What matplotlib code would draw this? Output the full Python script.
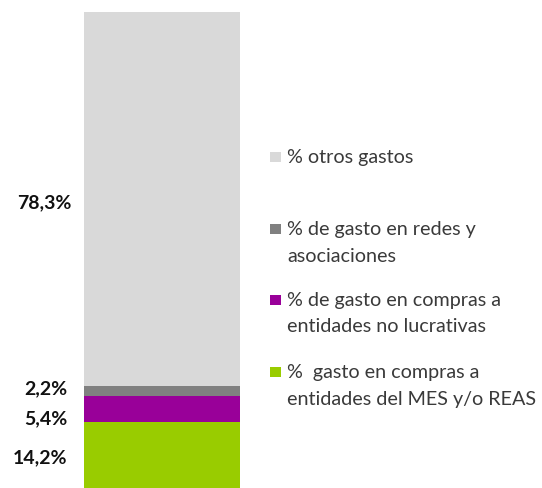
import matplotlib
matplotlib.use("Agg")
import matplotlib.pyplot as plt
from matplotlib.patches import Rectangle

# Data (bottom to top)
series = ["%  gasto en compras a\nentidades del MES y/o REAS",
          "% de gasto en compras a\nentidades no lucrativas",
          "% de gasto en redes y\nasociaciones",
          "% otros gastos"]
values = [14.2, 5.4, 2.2, 78.3]
labels = ["14,2%", "5,4%", "2,2%", "78,3%"]
colors = ["#99CC00", "#990099", "#808080", "#D9D9D9"]

plt.rcParams['font.family'] = ['Lato', 'DejaVu Sans']

W, H = 542, 488
fig = plt.figure(figsize=(W / 100, H / 100), dpi=100)
# bar spans x 84..240 px, y 12..490 px (slightly cropped at bottom)
ax = fig.add_axes([84 / W, 1 - 490 / H, (240 - 84) / W, (490 - 12) / H])

bottom = 0
centers = []
for v, c in zip(values, colors):
    ax.bar(0, v, bottom=bottom, width=1.0, color=c, linewidth=0)
    centers.append(bottom + v / 2)
    bottom += v
ax.set_xlim(-0.5, 0.5)
ax.set_ylim(0, bottom)
ax.axis("off")

# value labels to the left of the bar (pixel offsets from segment centre)
label_dx = [-17, -17, -17, -13]
label_dy = [-7, -15, -3, -9]
for cy, lab, dx, dy in zip(centers, labels, label_dx, label_dy):
    ax.annotate(lab, xy=(-0.5, cy), xytext=(dx, dy), textcoords="offset pixels",
                ha="right", va="baseline", fontsize=14, fontweight="bold",
                color="#111111")

# legend (top to bottom), one text per line
leg_base = [163, 235, 306, 378]
line_gap = 26.5
for name, c, yb in zip(series[::-1], colors[::-1], leg_base):
    fig.patches.append(Rectangle((270 / W, 1 - (yb - 1) / H), 11 / W, 10 / H,
                                 transform=fig.transFigure, color=c, linewidth=0))
    for i, line in enumerate(name.split("\n")):
        fig.text(287 / W, 1 - (yb + i * line_gap) / H, line, ha="left",
                 va="baseline", fontsize=14.2, color="#3a3a3a")

fig.savefig("out.png", dpi=100)
